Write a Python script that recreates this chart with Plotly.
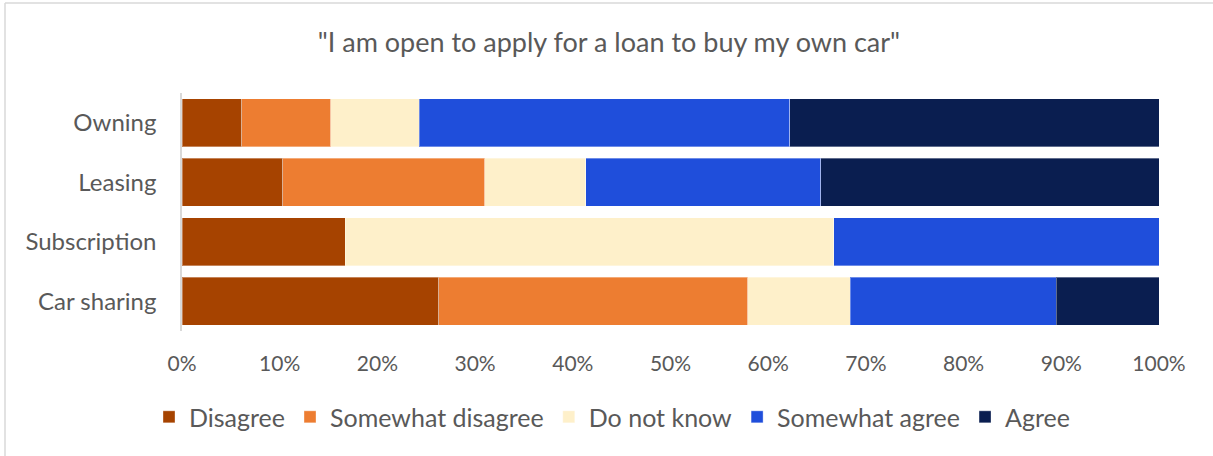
import plotly.graph_objects as go

# Survey responses (% of respondents) per car access model
categories = ["Owning", "Leasing", "Subscription", "Car sharing"]
disagree = [6.1, 10.3, 16.7, 26.3]
somewhat_disagree = [9.1, 20.7, 0.0, 31.6]
do_not_know = [9.1, 10.3, 50.0, 10.5]
somewhat_agree = [37.9, 24.1, 33.3, 21.1]
agree = [37.8, 34.6, 0.0, 10.5]

x_ticks = [0, 10, 20, 30, 40, 50, 60, 70, 80, 90, 100]
x_tick_labels = [f"{v}%" for v in x_ticks]

series = [
    ("Disagree", disagree, "#A64300"),
    ("Somewhat disagree", somewhat_disagree, "#ED7D31"),
    ("Do not know", do_not_know, "#FEF0CA"),
    ("Somewhat agree", somewhat_agree, "#1F4EDB"),
    ("Agree", agree, "#0A1E50"),
]

FONT = "Lato, 'Open Sans', sans-serif"
GREY = "#595959"

fig = go.Figure()
for name, vals, color in series:
    fig.add_trace(go.Bar(
        name=name,
        y=categories,
        x=vals,
        orientation="h",
        marker=dict(color=color, line=dict(color="rgba(255,255,255,0.35)", width=1)),
        hoverinfo="name+x",
    ))

fig.update_layout(
    barmode="stack",
    bargap=0.19,
    width=1213,
    height=456,
    margin=dict(l=182, r=54, t=93, b=125, autoexpand=False),
    paper_bgcolor="white",
    plot_bgcolor="white",
    font=dict(family=FONT, color=GREY, size=19),
    title=dict(
        text='"I am open to apply for a loan to buy my own car"',
        x=0.502, xanchor="center", xref="container",
        y=1 - 43 / 456, yanchor="middle",
        font=dict(family=FONT, size=27, color=GREY),
    ),
    xaxis=dict(
        range=[0, 100],
        tickvals=x_ticks,
        ticktext=x_tick_labels,
        tickangle=0,
        showgrid=False,
        zeroline=False,
        showline=False,
        ticks="",
        ticklabelstandoff=18,
        tickfont=dict(family=FONT, size=21, color=GREY),
        fixedrange=True,
    ),
    yaxis=dict(
        categoryorder="array",
        categoryarray=categories[::-1],
        autorange=True,
        showgrid=False,
        zeroline=False,
        showline=True,
        linecolor="#D9D9D9",
        linewidth=1.5,
        ticks="",
        ticklabelstandoff=19,
        tickfont=dict(family=FONT, size=24, color=GREY),
        fixedrange=True,
    ),
    legend=dict(
        orientation="h",
        x=(612 - 182) / 977, xanchor="center",
        y=-0.265, yanchor="top",
        font=dict(family=FONT, size=25, color=GREY),
        itemwidth=30,
        traceorder="normal",
        bgcolor="rgba(0,0,0,0)",
    ),
    showlegend=True,
)

# Chart-area border (left and top edges)
fig.add_shape(type="line", xref="paper", yref="paper",
              x0=-177 / 977, x1=-177 / 977, y0=-125 / 238, y1=328 / 238,
              line=dict(color="#D9D9D9", width=1.5))
fig.add_shape(type="line", xref="paper", yref="paper",
              x0=-177 / 977, x1=1.06, y0=328 / 238, y1=328 / 238,
              line=dict(color="#D9D9D9", width=1.5))

fig.write_html("out.html")
